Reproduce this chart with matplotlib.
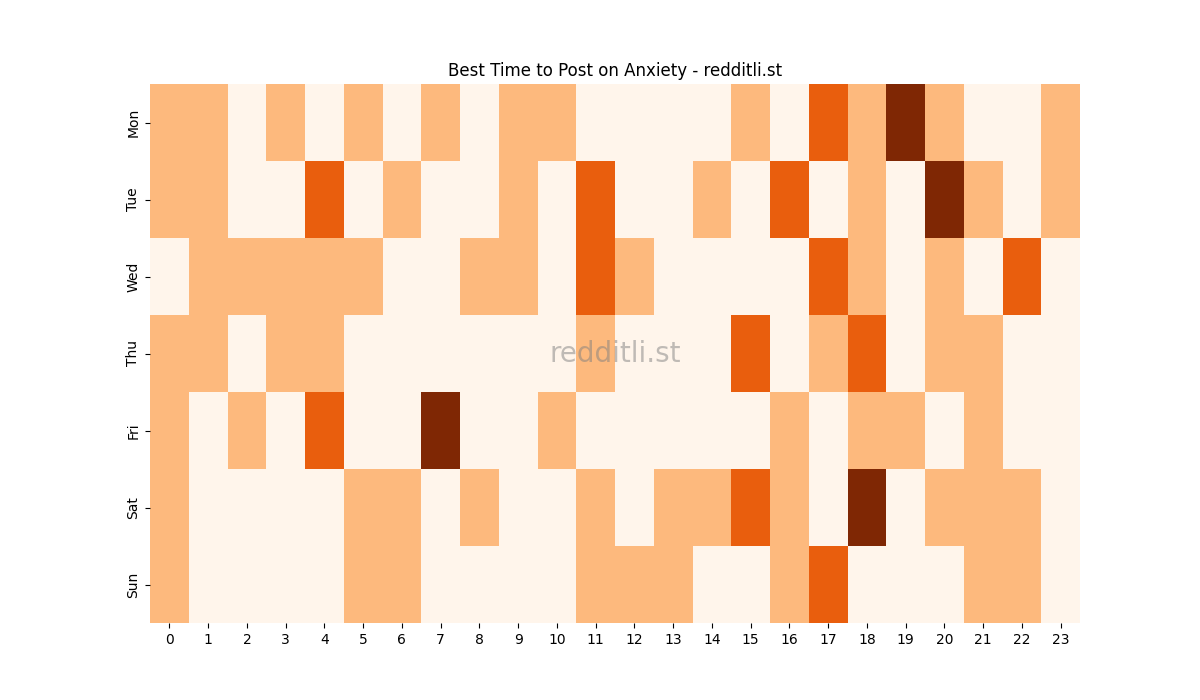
import numpy as np
import pandas as pd
import matplotlib
matplotlib.use("Agg")
import matplotlib.pyplot as plt
import seaborn as sns

days = ['Mon', 'Tue', 'Wed', 'Thu', 'Fri', 'Sat', 'Sun']
hours = list(range(24))

mon = [1, 1, 0, 1, 0, 1, 0, 1, 0, 1, 1, 0, 0, 0, 0, 1, 0, 2, 1, 3, 1, 0, 0, 1]
tue = [1, 1, 0, 0, 2, 0, 1, 0, 0, 1, 0, 2, 0, 0, 1, 0, 2, 0, 1, 0, 3, 1, 0, 1]
wed = [0, 1, 1, 1, 1, 1, 0, 0, 1, 1, 0, 2, 1, 0, 0, 0, 0, 2, 1, 0, 1, 0, 2, 0]
thu = [1, 1, 0, 1, 1, 0, 0, 0, 0, 0, 0, 1, 0, 0, 0, 2, 0, 1, 2, 0, 1, 1, 0, 0]
fri = [1, 0, 1, 0, 2, 0, 0, 3, 0, 0, 1, 0, 0, 0, 0, 0, 1, 0, 1, 1, 0, 1, 0, 0]
sat = [1, 0, 0, 0, 0, 1, 1, 0, 1, 0, 0, 1, 0, 1, 1, 2, 1, 0, 3, 0, 1, 1, 1, 0]
sun = [1, 0, 0, 0, 0, 1, 1, 0, 0, 0, 0, 1, 1, 1, 0, 0, 1, 2, 0, 0, 0, 1, 1, 0]

df = pd.DataFrame([mon, tue, wed, thu, fri, sat, sun], index=days, columns=hours)

fig = plt.figure(figsize=(12, 7), dpi=100)
ax = fig.add_subplot(111)
sns.heatmap(df, cmap='Oranges', cbar=False, ax=ax, vmin=0, vmax=3)
ax.set_title("Best Time to Post on Anxiety - redditli.st")
ax.set_xlabel("")
ax.set_ylabel("")
plt.setp(ax.get_yticklabels(), rotation=90, va='center')
ax.text(0.5, 0.5, "redditli.st", transform=ax.transAxes, ha='center', va='center',
        fontsize=20, color='gray', alpha=0.5)
fig.savefig("out.png", dpi=100)
